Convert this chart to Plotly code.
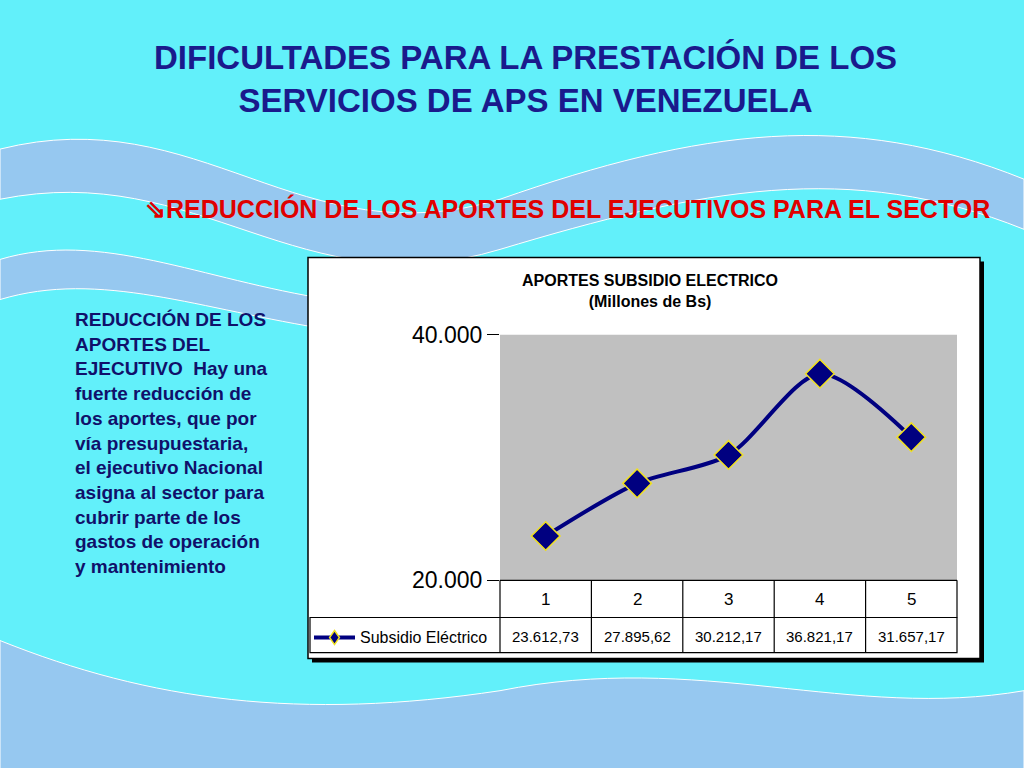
import plotly.graph_objects as go

categories = ["1", "2", "3", "4", "5"]
x_pos = [1, 2, 3, 4, 5]
values = [23612.73, 27895.62, 30212.17, 36821.17, 31657.17]
value_labels = ["23.612,73", "27.895,62", "30.212,17", "36.821,17", "31.657,17"]
series_name = "Subsidio Eléctrico"
y_ticks = [20000, 40000]
y_tick_labels = ["20.000", "40.000"]

W, H = 1024, 768
def px(x): return x / W
def py(y):
    yc = (y - 14.3) / 0.9633
    return 1 - yc / H

fig = go.Figure()
fig.add_trace(go.Scatter(x=x_pos, y=values, mode="lines+markers",
    line=dict(color="#000080", width=4, shape="spline", smoothing=0.8),
    marker=dict(symbol="diamond", size=22, color="#000080", line=dict(color="#F0E020", width=1.5)),
    name=series_name, showlegend=False, hoverinfo="skip"))

shapes = []
wave = "rgba(150,200,240,1)"
shapes.append(dict(type="rect", xref="paper", yref="paper", layer="below", x0=0, x1=1, y0=-0.1, y1=1.1,
    fillcolor="#62F0FA", line=dict(width=0)))
shapes += [
 dict(type="path", xref="paper", yref="paper", layer="below",
      path=f"M 0 {py(150)} C {px(200)} {py(100)} {px(300)} {py(260)} {px(500)} {py(200)} C {px(700)} {py(130)} {px(850)} {py(110)} {px(1024)} {py(180)} L {px(1024)} {py(230)} C {px(850)} {py(160)} {px(700)} {py(190)} {px(500)} {py(250)} C {px(300)} {py(310)} {px(200)} {py(160)} 0 {py(200)} Z",
      fillcolor=wave, line=dict(color="white", width=1)),
 dict(type="path", xref="paper", yref="paper", layer="below",
      path=f"M 0 {py(640)} C {px(150)} {py(700)} {px(300)} {py(720)} {px(500)} {py(690)} C {px(700)} {py(650)} {px(850)} {py(720)} {px(1024)} {py(690)} L {px(1024)} {py(790)} L 0 {py(790)} Z",
      fillcolor=wave, line=dict(color="white", width=1)),
 dict(type="path", xref="paper", yref="paper", layer="below",
      path=f"M 0 {py(260)} C {px(100)} {py(230)} {px(200)} {py(280)} {px(330)} {py(300)} L {px(330)} {py(330)} C {px(200)} {py(310)} {px(100)} {py(270)} 0 {py(300)} Z",
      fillcolor=wave, line=dict(color="white", width=1)),
]
shapes.append(dict(type="rect", xref="paper", yref="paper", layer="below",
    x0=px(312), x1=px(984), y0=py(662), y1=py(262), fillcolor="black", line=dict(width=0)))
shapes.append(dict(type="rect", xref="paper", yref="paper", layer="below",
    x0=px(308), x1=px(980), y0=py(658), y1=py(258), fillcolor="white", line=dict(color="black", width=1.5)))
shapes.append(dict(type="rect", xref="paper", yref="paper", layer="below",
    x0=px(500), x1=px(957), y0=py(580), y1=py(335), fillcolor="#C0C0C0", line=dict(width=0)))
col_edges = [500 + i * 91.4 for i in range(6)]
shapes.append(dict(type="rect", xref="paper", yref="paper", x0=px(310), x1=px(957), y0=py(652), y1=py(617), line=dict(color="black", width=1.2)))
shapes.append(dict(type="line", xref="paper", yref="paper", x0=px(500), x1=px(957), y0=py(580), y1=py(580), line=dict(color="black", width=1.2)))
shapes.append(dict(type="line", xref="paper", yref="paper", x0=px(957), x1=px(957), y0=py(580), y1=py(617), line=dict(color="black", width=1.2)))
for e in col_edges[:-1]:
    shapes.append(dict(type="line", xref="paper", yref="paper", x0=px(e), x1=px(e), y0=py(580), y1=py(652), line=dict(color="black", width=1.2)))
shapes.append(dict(type="line", xref="paper", yref="paper", x0=px(314), x1=px(355), y0=py(637), y1=py(637), line=dict(color="#000080", width=4)))
mx, my, d = 334.5, 637, 7
shapes.append(dict(type="path", xref="paper", yref="paper",
    path=f"M {px(mx)} {py(my-d)} L {px(mx+d*0.7)} {py(my)} L {px(mx)} {py(my+d)} L {px(mx-d*0.7)} {py(my)} Z",
    fillcolor="#000080", line=dict(color="#F0E020", width=1.5)))

ann = []
ann.append(dict(text="<b>DIFICULTADES PARA LA PRESTACIÓN DE LOS<br>SERVICIOS DE APS EN VENEZUELA</b>", x=px(525), y=py(80), xref="paper", yref="paper",
    showarrow=False, font=dict(family="Liberation Sans", size=33, color="#1A1A8C"), xanchor="center", yanchor="middle"))
ann.append(dict(text="<b>⇘REDUCCIÓN DE LOS APORTES DEL EJECUTIVOS PARA EL SECTOR</b>", x=px(143), y=py(209), xref="paper", yref="paper",
    showarrow=False, font=dict(family="Liberation Sans", size=25, color="#E00000"), xanchor="left", yanchor="middle"))
ann.append(dict(text="<b>REDUCCIÓN DE LOS<br>APORTES DEL<br>EJECUTIVO  Hay una<br>fuerte reducción de<br>los aportes, que por<br>vía presupuestaria,<br>el ejecutivo Nacional<br>asigna al sector para<br>cubrir parte de los<br>gastos de operación<br>y mantenimiento</b>",
    x=px(73), y=py(307), xref="paper", yref="paper", showarrow=False, align="left",
    font=dict(family="Liberation Sans", size=19, color="#10106A"), xanchor="left", yanchor="top"))
ann.append(dict(text="<b>APORTES SUBSIDIO ELECTRICO</b><br><b>(Millones de Bs)</b>", x=px(650), y=py(291), xref="paper", yref="paper",
    showarrow=False, font=dict(family="Liberation Sans", size=16, color="black"), xanchor="center", yanchor="middle"))
for i, c in enumerate(categories):
    ann.append(dict(text=c, x=x_pos[i], y=py(599), xref="x", yref="paper", showarrow=False, yanchor="middle",
        font=dict(family="Liberation Sans", size=17, color="black")))
    ann.append(dict(text=value_labels[i], x=x_pos[i], y=py(636), xref="x", yref="paper", showarrow=False, yanchor="middle",
        font=dict(family="Liberation Sans", size=15, color="black")))
ann.append(dict(text=series_name, x=px(358), y=py(637), xref="paper", yref="paper", showarrow=False, xanchor="left", yanchor="middle",
    font=dict(family="Liberation Sans", size=16, color="black")))

fig.update_layout(
    width=W, height=H, autosize=False, margin=dict(l=0, r=0, t=0, b=0),
    paper_bgcolor="#62F0FA", plot_bgcolor="rgba(0,0,0,0)", showlegend=False,
    xaxis=dict(domain=[px(500), px(957)], range=[0.5, 5.5], showticklabels=False, showgrid=False, zeroline=False),
    yaxis=dict(domain=[py(580), py(335)], range=[20000, 40000], tickvals=y_ticks, ticktext=y_tick_labels,
               ticks="outside", ticklen=12, tickcolor="black", showgrid=False, zeroline=False, showline=False,
               tickfont=dict(family="Liberation Sans", size=23, color="black")),
    shapes=shapes, annotations=ann,
)
fig.write_html("out.html", config={"displayModeBar": False, "responsive": False},
               default_width="1024px", default_height="768px",
               post_script="document.body.style.margin='0';document.body.style.overflow='hidden';")
